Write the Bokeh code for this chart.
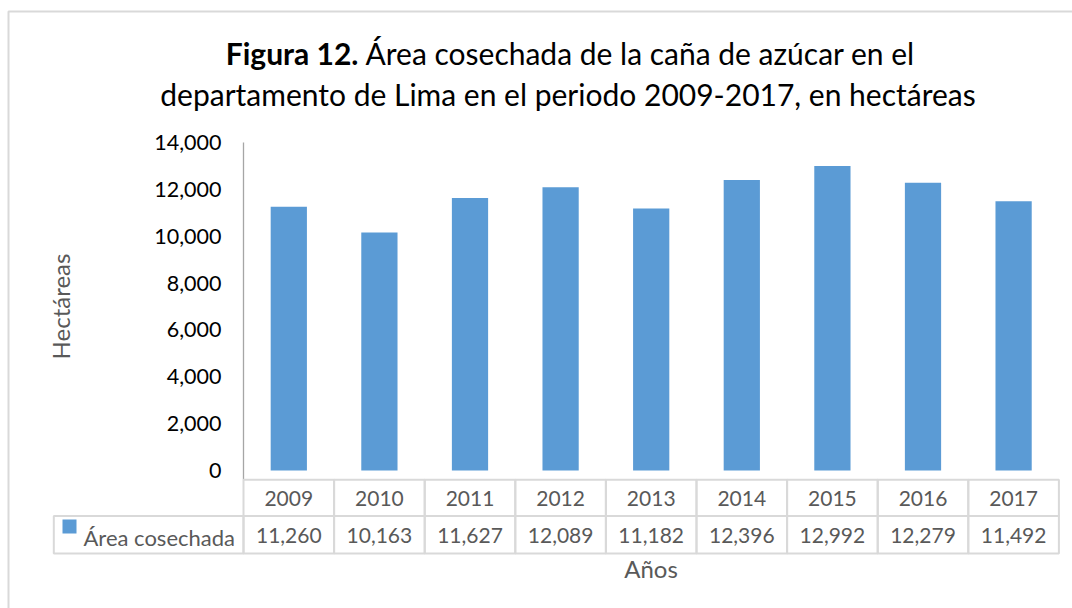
from bokeh.plotting import figure
from bokeh.models import (Range1d, FixedTicker, NumeralTickFormatter, Label,
                          BoxAnnotation, ColumnDataSource)
from bokeh.core.properties import value
from bokeh.embed import file_html
from bokeh.resources import INLINE

# ---------------- data ----------------
years = ["2009", "2010", "2011", "2012", "2013", "2014", "2015", "2016", "2017"]
area = [11260, 10163, 11627, 12089, 11182, 12396, 12992, 12279, 11492]
y_ticks = [0, 2000, 4000, 6000, 8000, 10000, 12000, 14000]
series_name = "Área cosechada"
title_bold = "Figura 12."
title_rest1 = "Área cosechada de la caña de azúcar en el"
title_line2 = "departamento de Lima en el periodo 2009-2017, en hectáreas"
x_title = "Años"
y_title = "Hectáreas"

# ---------------- layout (page pixels) ----------------
W, H = 1072, 608
AXIS_X = 243.0          # left edge of first category column
COL_W = 90.6            # width of one category column
ZERO_Y = 470.0          # pixel row of value 0
TOP_Y = 142.0           # pixel row of the top tick
ROW1_T, ROW_DIV, ROW2_B = 479.3, 515.5, 553.0
LEG_CELL_L = 53.3
N = len(years)

FONT = "Lato"
BAR = "#5B9BD5"
GRID = "#D9D9D9"
AXC = "#A6A6A6"
TXT = "#595959"

y_max = y_ticks[-1]
ppu = (ZERO_Y - TOP_Y) / y_max
def ydata(py):
    return (ZERO_Y - py) / ppu
def xdata(px):
    return (px - AXIS_X) / COL_W

p = figure(width=W, height=H, title=None,
           x_range=Range1d(xdata(0), xdata(W)),
           y_range=Range1d(ydata(H), ydata(0)),
           min_border=0, output_backend="svg", toolbar_location=None)
p.outline_line_color = None
p.xgrid.visible = False
p.ygrid.visible = False
p.background_fill_color = "white"
p.border_fill_color = "white"

# y axis, drawn at the first column edge
ya = p.yaxis[0]
ya.fixed_location = 0
ya.bounds = (0, y_max)
ya.ticker = FixedTicker(ticks=y_ticks)
ya.formatter = NumeralTickFormatter(format="0,0")
ya.major_tick_in = 0
ya.major_tick_out = 0
ya.minor_tick_in = 0
ya.minor_tick_out = 0
ya.major_tick_line_color = None
ya.minor_tick_line_color = None
ya.axis_line_color = None
ya.major_label_standoff = 22
ya.major_label_text_font = FONT
ya.major_label_text_font_size = "21.5px"
ya.major_label_text_color = "#000000"
ya.axis_label = y_title
ya.axis_label_text_font = FONT
ya.axis_label_text_font_size = "24px"
ya.axis_label_text_font_style = "normal"
ya.axis_label_text_color = TXT
ya.axis_label_standoff = 76
# value-axis rule, running down to the top of the data table
p.segment(x0=[0], y0=[ydata(ROW1_T)], x1=[0], y1=[y_max],
          line_color=AXC, line_width=1.3)

# x axis: only its title, under the data table
xa = p.xaxis[0]
xa.fixed_location = ydata(ROW2_B)
xa.bounds = (0, N)
xa.ticker = FixedTicker(ticks=[])
xa.axis_line_color = None
xa.major_tick_in = 0
xa.major_tick_out = 0
xa.major_tick_line_color = None
xa.minor_tick_line_color = None
xa.axis_label = x_title
xa.axis_label_text_font = FONT
xa.axis_label_text_font_size = "24px"
xa.axis_label_text_font_style = "normal"
xa.axis_label_text_color = TXT
xa.axis_label_standoff = 0

# bars
xs = [i + 0.5 for i in range(N)]
src = ColumnDataSource(dict(x=xs, top=area, year=years,
                            label=[f"{v:,}" for v in area],
                            left=[i for i in range(N)],
                            right=[i + 1 for i in range(N)]))
bars = p.vbar(x="x", top="top", bottom=0, width=0.4, source=src,
              fill_color=BAR, line_color=None)

# data table cells
p.quad(left="left", right="right", top=ydata(ROW1_T), bottom=ydata(ROW_DIV),
       source=src, fill_color=None, line_color=GRID, line_width=2)
p.quad(left="left", right="right", top=ydata(ROW_DIV), bottom=ydata(ROW2_B),
       source=src, fill_color=None, line_color=GRID, line_width=2)
p.text(x="x", y=ydata(498), text="year", source=src,
       text_align="center", text_baseline="alphabetic",
       text_font=value(FONT), text_font_size="21px", text_color=TXT)
p.text(x="x", y=ydata(535), text="label", source=src,
       text_align="center", text_baseline="alphabetic",
       text_font=value(FONT), text_font_size="21px", text_color=TXT)

# legend key cell of the data table
p.add_layout(BoxAnnotation(left=xdata(LEG_CELL_L), right=0,
                           top=ydata(ROW_DIV), bottom=ydata(ROW2_B),
                           fill_color=None, line_color=GRID, line_alpha=1,
                           line_width=2))
p.scatter(x=[xdata(69)], y=[ydata(526)], marker="square", size=14,
          fill_color=BAR, line_color=None)
p.text(x=[xdata(83)], y=[ydata(536.5)], text=[series_name],
       text_align="left", text_baseline="alphabetic",
       text_font=value(FONT), text_font_size="22px", text_color=TXT)

# outer chart border (left and top edges visible)
p.add_layout(BoxAnnotation(left=xdata(8), right=xdata(W + 30),
                           top=ydata(11), bottom=ydata(H + 30),
                           fill_color=None, line_color=GRID, line_alpha=1,
                           line_width=2))

# title
p.add_layout(Label(x=xdata(358), y=ydata(52),
                   text=title_bold, text_align="right",
                   text_baseline="alphabetic", text_font=FONT,
                   text_font_size="30px", text_font_style="bold",
                   text_color="#000000"))
p.add_layout(Label(x=xdata(365), y=ydata(52),
                   text=title_rest1, text_align="left",
                   text_baseline="alphabetic", text_font=FONT,
                   text_font_size="30px", text_color="#000000"))
p.add_layout(Label(x=xdata(567.5), y=ydata(93),
                   text=title_line2, text_align="center",
                   text_baseline="alphabetic", text_font=FONT,
                   text_font_size="30px", text_color="#000000"))

open("out.html", "w").write(file_html(p, INLINE))
